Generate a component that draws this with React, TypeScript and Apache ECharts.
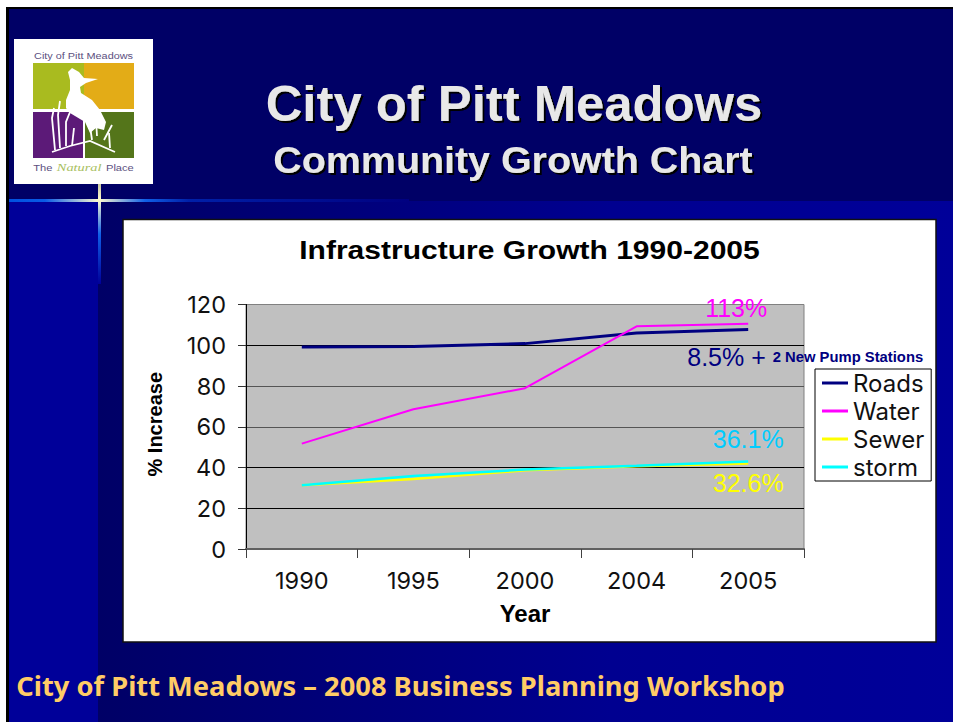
import React, { useEffect, useRef } from "react";
import * as echarts from "echarts";

const years = ["1990", "1995", "2000", "2004", "2005"];
const roads = [99.2, 99.4, 100.8, 106, 107.7];
const water = [51.7, 68.6, 78.9, 109.3, 110.5];
const sewer = [31.3, 34.4, 38.6, 40.6, 42];
const storm = [31.3, 35.8, 39, 40.8, 42.9];
const yTicks = ["0", "20", "40", "60", "80", "100", "120"];

const SANS = "'Liberation Sans', Arial, sans-serif";
const WIDE = "Inter, 'Liberation Sans', Arial, sans-serif";
const W = 953;
const H = 722;

function endLabel(values: number[], text: string, offset: number[], color: string, extra: any = {}) {
  return values.map((v, i) =>
    i === values.length - 1
      ? {
          value: v,
          label: {
            show: true,
            formatter: text,
            position: "inside",
            align: "center",
            verticalAlign: "middle",
            offset,
            color,
            fontSize: 25,
            fontFamily: SANS,
            ...extra,
          },
        }
      : v
  );
}

function lineSeries(name: string, data: any[], color: string, width: number) {
  return {
    name,
    type: "line",
    data,
    symbol: "circle",
    symbolSize: 0,
    showSymbol: true,
    smooth: false,
    itemStyle: { color },
    lineStyle: { color, width },
    emphasis: { disabled: true },
  };
}

function reed(points: number[][]) {
  return {
    type: "polyline",
    z: -5,
    shape: { points },
    style: { stroke: "#ffffff", lineWidth: 1.8, fill: "none" },
  };
}

const heron = [
  [68, 72], [72, 68], [79, 72], [84, 78], [98, 79], [86, 83], [80, 87], [81, 93], [92, 100],
  [100, 110], [106, 122], [104, 130], [96, 128], [90, 133], [85, 122], [70, 113], [66, 108], [66, 100], [70, 90], [70, 80],
];

function heading(text: string, x: number, y: number, scaleX: number, font: string, fill: string, shadow: boolean) {
  const style: any = { x: 0, y: 0, text, align: "center", verticalAlign: "middle", font, fill };
  if (shadow) {
    style.textShadowColor = "#000000";
    style.textShadowOffsetX = 2;
    style.textShadowOffsetY = 2;
    style.textShadowBlur = 1;
    style.shadowColor = "#000000";
    style.shadowOffsetX = 2;
    style.shadowOffsetY = 2;
    style.shadowBlur = 1;
  }
  return { type: "text", x, y, scaleX, style };
}

const backdrop: any[] = [
  { type: "rect", z: -20, shape: { x: 6, y: 7, width: W - 6, height: H - 7 }, style: { fill: "#000000" } },
  { type: "rect", z: -19, shape: { x: 9, y: 9, width: W - 9, height: H - 9 }, style: { fill: "#000066" } },
  { type: "rect", z: -18, shape: { x: 9, y: 201, width: 89, height: H - 201 }, style: { fill: "#000099" } },
  {
    type: "rect",
    z: -18,
    shape: { x: 98, y: 201, width: W - 98, height: H - 201 },
    style: {
      fill: {
        type: "linear", x: 0, y: 0, x2: 1, y2: 0,
        colorStops: [{ offset: 0, color: "#000066" }, { offset: 0.6, color: "#000090" }, { offset: 1, color: "#000099" }],
      },
    },
  },
  {
    type: "rect",
    z: -17,
    shape: { x: 9, y: 199, width: 400, height: 3 },
    style: {
      fill: {
        type: "linear", x: 0, y: 0, x2: 1, y2: 0,
        colorStops: [
          { offset: 0, color: "#0050e0" },
          { offset: 0.09, color: "#0a5ae6" },
          { offset: 0.225, color: "#fffbd0" },
          { offset: 0.34, color: "#1060e8" },
          { offset: 0.45, color: "#0020a8" },
          { offset: 1, color: "#000080" },
        ],
      },
    },
  },
  {
    type: "rect",
    z: -16,
    shape: { x: 98, y: 184, width: 3, height: 100 },
    style: {
      fill: {
        type: "linear", x: 0, y: 0, x2: 0, y2: 1,
        colorStops: [
          { offset: 0, color: "#c8c8a0" },
          { offset: 0.16, color: "#fffbd0" },
          { offset: 0.5, color: "#1060e8" },
          { offset: 1, color: "#000099" },
        ],
      },
    },
  },
  { type: "rect", z: -15, shape: { x: 123, y: 219.5, width: 813, height: 422.5 }, style: { fill: "#ffffff", stroke: "#111111", lineWidth: 1.5 } },
  // logo
  { type: "rect", z: -8, shape: { x: 14, y: 39, width: 139, height: 145 }, style: { fill: "#ffffff" } },
  { type: "rect", z: -7, shape: { x: 33, y: 63, width: 51, height: 46 }, style: { fill: "#a9bb1f" } },
  { type: "rect", z: -7, shape: { x: 84, y: 63, width: 50, height: 46 }, style: { fill: "#e3ac17" } },
  { type: "rect", z: -7, shape: { x: 33, y: 112, width: 50, height: 46 }, style: { fill: "#5c1a78" } },
  { type: "rect", z: -7, shape: { x: 85, y: 112, width: 49, height: 46 }, style: { fill: "#54751a" } },
  { type: "polygon", z: -6, shape: { points: heron }, style: { fill: "#ffffff" } },
  reed([[55, 150], [52, 118], [54, 108]]),
  reed([[60, 148], [58, 115], [60, 101]]),
  reed([[66, 146], [66, 122], [70, 112]]),
  reed([[72, 146], [74, 128]]),
  reed([[92, 140], [90, 126]]),
  reed([[97, 136], [96, 120]]),
  reed([[104, 140], [112, 125]]),
  reed([[110, 148], [109, 133]]),
  reed([[52, 152], [70, 146], [90, 141], [115, 152]]),
  {
    type: "text",
    z: -5,
    x: 83.5,
    y: 55.5,
    scaleX: 1.31,
    style: { x: 0, y: 0, text: "City of Pitt Meadows", align: "center", verticalAlign: "middle", font: "8.3px " + SANS, fill: "#5c5080" },
  },
  {
    type: "text",
    z: -5,
    x: 83.5,
    y: 168,
    scaleX: 1.31,
    style: {
      x: 0, y: 0, align: "center", verticalAlign: "middle",
      text: "{a|The} {b|Natural} {a|Place}",
      rich: {
        a: { fontSize: 8.5, fontFamily: SANS, fill: "#5c5080", color: "#5c5080" },
        b: { fontSize: 11, fontStyle: "italic", fontFamily: "'Liberation Serif', serif", fill: "#a8c060", color: "#a8c060" },
      },
    },
  },
  // slide headings
  heading("City of Pitt Meadows", 514, 104, 1.016, "bold 50px " + SANS, "#e8e8e8", true),
  heading("Community Growth Chart", 513, 160, 1.065, "bold 37px " + SANS, "#e8e8e8", true),
  heading("Infrastructure Growth 1990-2005", 529.5, 250, 1.155, "bold 26px " + SANS, "#000000", false),
  heading("City of Pitt Meadows \u2013 2008 Business Planning Workshop", 400.5, 686, 1.05, "bold 26px 'Noto Sans', " + SANS, "#ffcc66", false),
];

export default function App() {
  const ref = useRef<HTMLDivElement>(null);
  useEffect(() => {
    const chart = echarts.init(ref.current!, undefined, { renderer: "svg", width: W, height: H });
    chart.setOption({
      animation: false,
      graphic: { elements: backdrop },
      grid: {
        show: true,
        left: 246,
        right: 149,
        top: 304.5,
        bottom: 173,
        backgroundColor: "#c0c0c0",
        borderColor: "#808080",
        borderWidth: 1,
      },
      legend: {
        orient: "vertical",
        left: 815,
        top: 369,
        icon: "rect",
        itemWidth: 26,
        itemHeight: 3,
        itemGap: 4,
        padding: [2, 7, 2, 7],
        backgroundColor: "#ffffff",
        borderColor: "#000000",
        borderWidth: 1,
        textStyle: { fontFamily: WIDE, fontSize: 24, lineHeight: 24, color: "#111111" },
        data: ["Roads", "Water", "Sewer", "storm"],
      },
      xAxis: {
        type: "category",
        data: years,
        boundaryGap: true,
        name: "Year",
        nameLocation: "middle",
        nameGap: 52,
        nameTextStyle: { fontFamily: SANS, fontWeight: "bold", fontSize: 24, color: "#000000" },
        axisLine: { lineStyle: { color: "#606060", width: 2 } },
        axisTick: { show: true, alignWithLabel: false, length: 9, lineStyle: { color: "#404040" } },
        axisLabel: { interval: 0, margin: 19, fontFamily: WIDE, fontSize: 23.5, color: "#111111" },
      },
      yAxis: {
        type: "value",
        min: 0,
        max: 120,
        interval: 20,
        name: "% Increase",
        nameLocation: "middle",
        nameGap: 81,
        nameTextStyle: { fontFamily: SANS, fontWeight: "bold", fontSize: 20, color: "#000000", padding: [0, 0, 0, 5] },
        axisLine: { show: true, onZero: false, lineStyle: { color: "#000000", width: 1 } },
        axisTick: { show: true, length: 8, lineStyle: { color: "#333333" } },
        axisLabel: {
          margin: 20,
          fontFamily: WIDE,
          fontSize: 23.5,
          color: "#111111",
          formatter: (v: number) => yTicks[v / 20],
        },
        splitLine: {
          show: true,
          lineStyle: { color: ["#000000", "#000000", "#000000", "#555555", "#555555", "#000000", "#808080"], width: 1 },
        },
      },
      series: [
        lineSeries("Roads", endLabel(roads, "{a|8.5% + }{b|2 New Pump Stations}", [57, 27], "#000080", {
          rich: {
            a: { fontSize: 25, fontFamily: SANS, color: "#000080" },
            b: { fontSize: 14.8, fontWeight: "bold", fontFamily: SANS, color: "#000080" },
          },
        }), "#000080", 3),
        lineSeries("Water", endLabel(water, "113%", [-12, -16], "#ff00ff"), "#ff00ff", 2),
        lineSeries("Sewer", endLabel(sewer, "32.6%", [0, 20], "#ffff00"), "#ffff00", 2.5),
        lineSeries("storm", endLabel(storm, "36.1%", [0, -23], "#00ccff"), "#00ffff", 2.5),
      ],
    });
    return () => chart.dispose();
  }, []);
  return <div ref={ref} style={{ position: "fixed", left: 0, top: 0, width: W, height: H, background: "#ffffff" }} />;
}
